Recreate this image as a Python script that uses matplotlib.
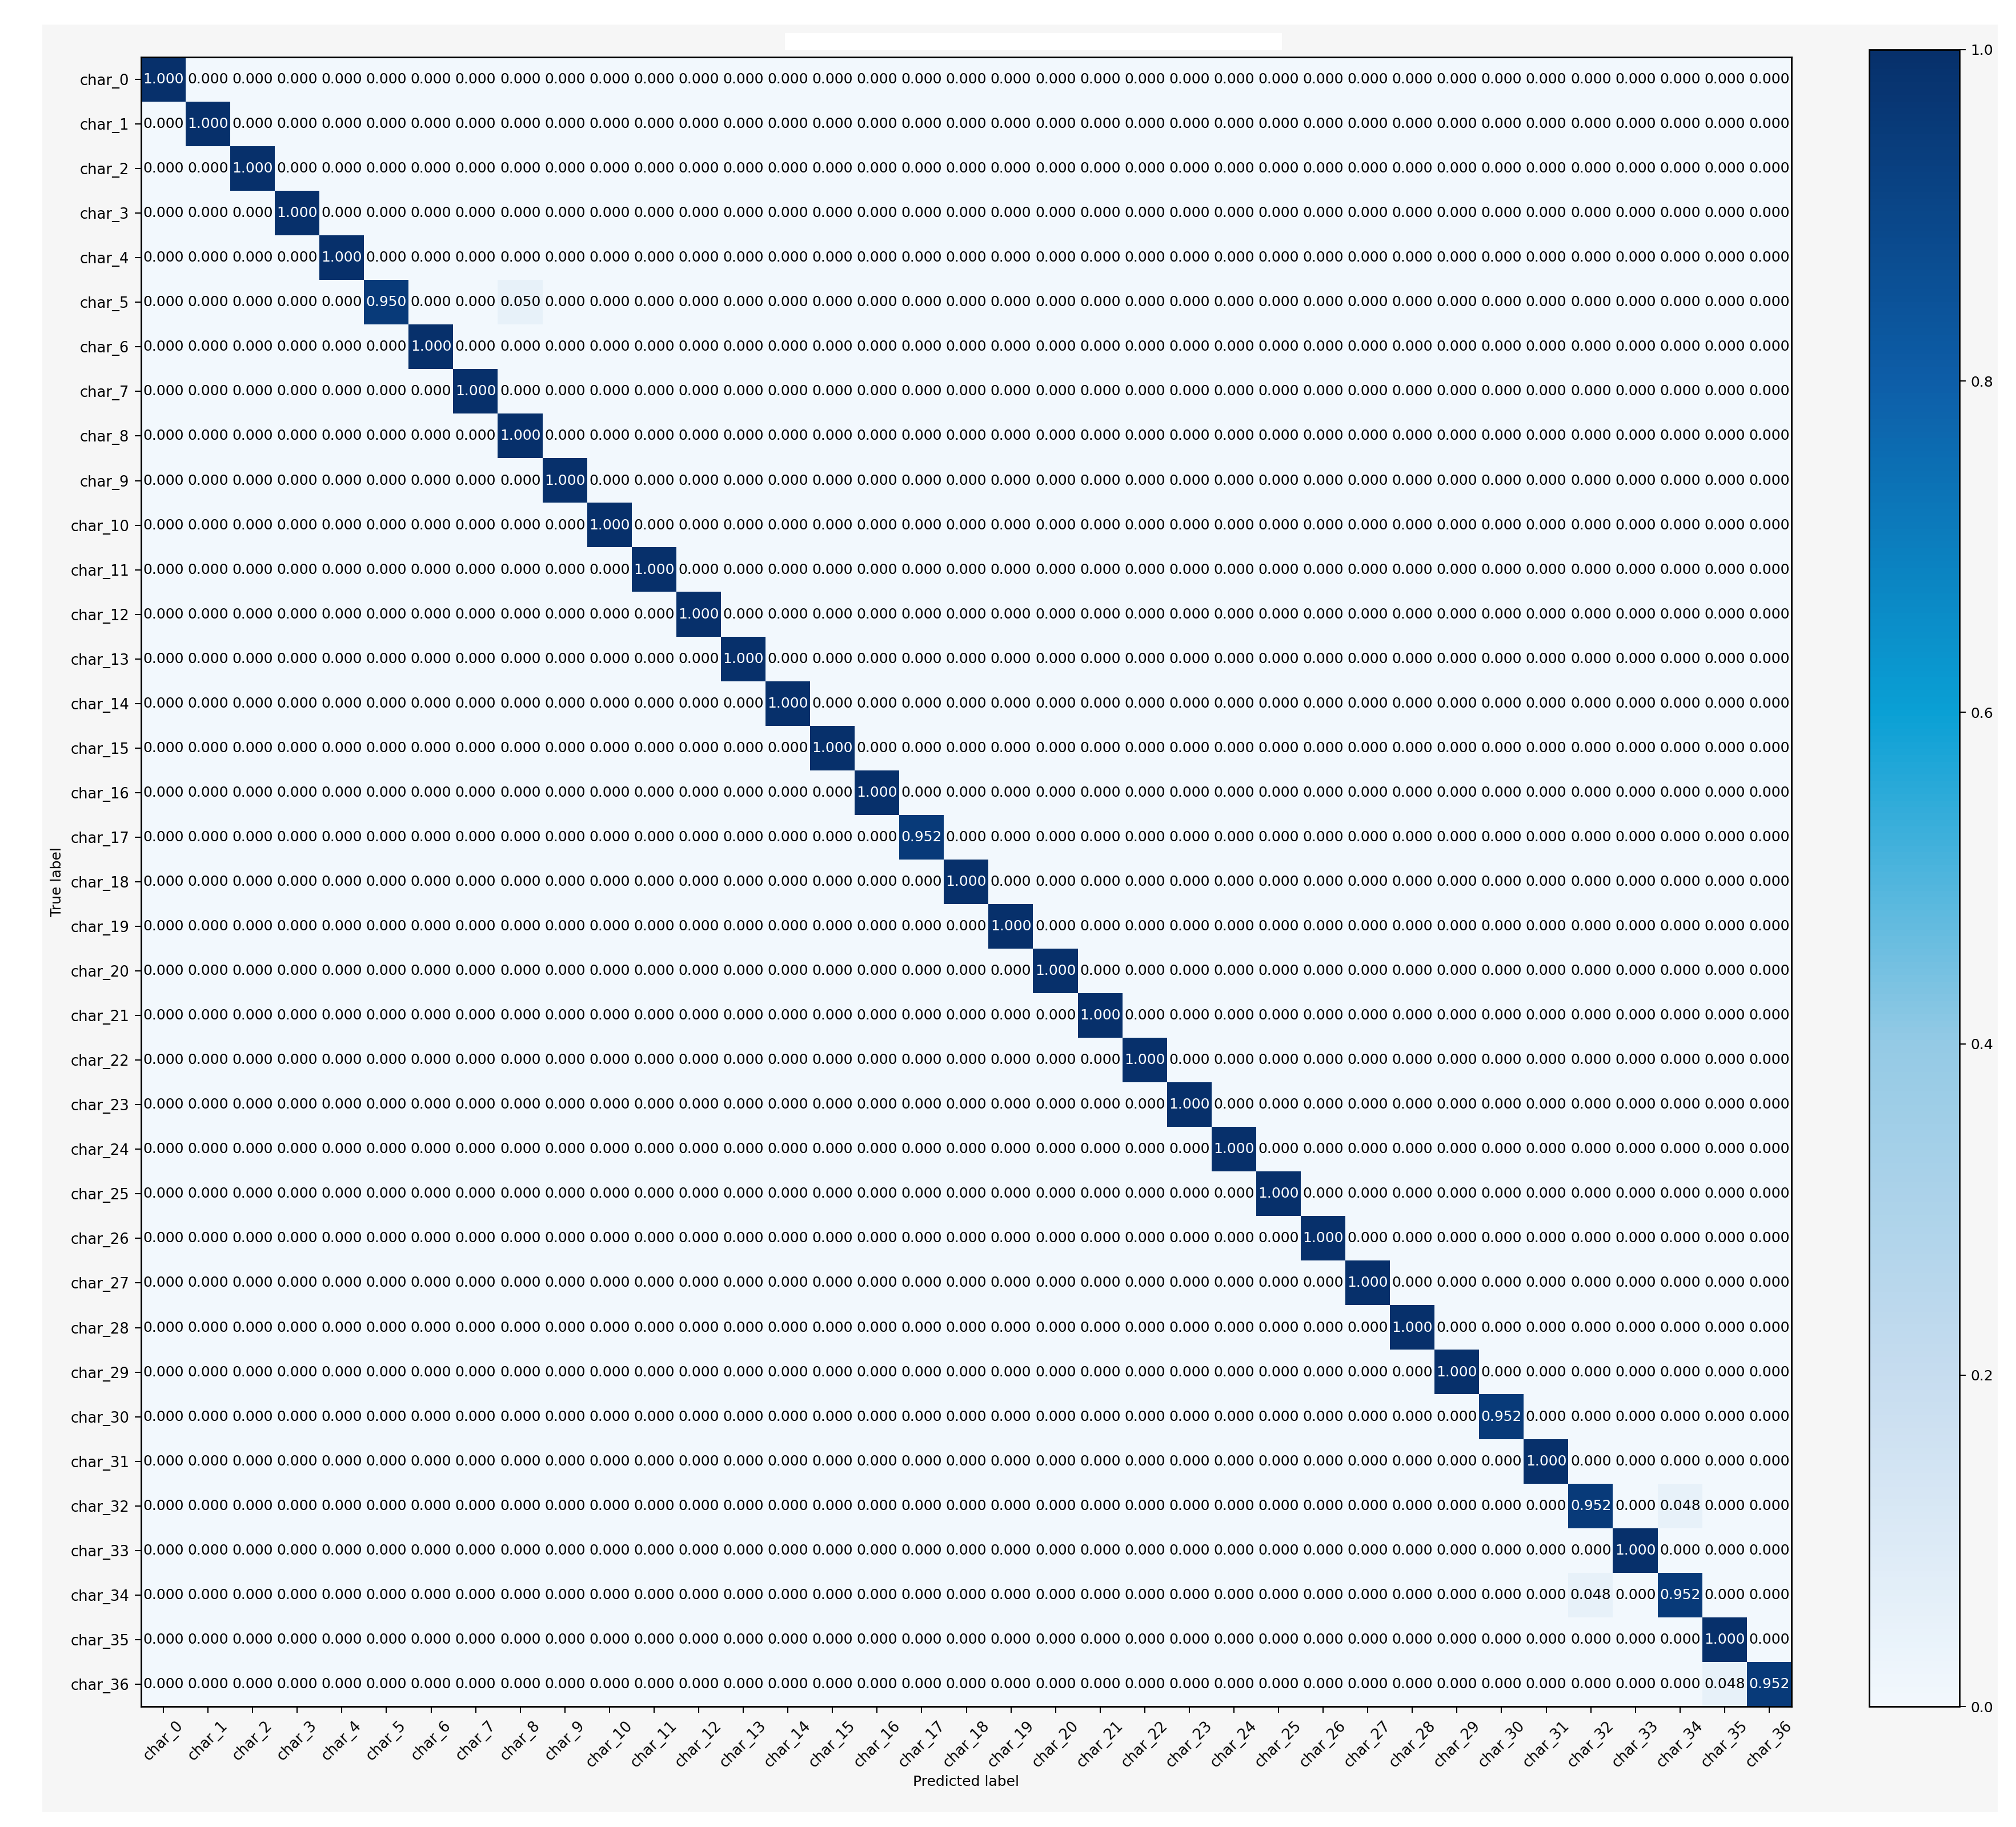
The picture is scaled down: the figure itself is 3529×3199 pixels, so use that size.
import matplotlib
matplotlib.use("Agg")
import matplotlib.pyplot as plt
from matplotlib.patches import Rectangle
from matplotlib.colors import LinearSegmentedColormap
import numpy as np

# class names
classes = ["char_%d" % i for i in range(37)]

# diagonal of the normalized confusion matrix (row = true label)
diag_values = [1.000, 1.000, 1.000, 1.000, 1.000, 0.950, 1.000, 1.000, 1.000, 1.000,
               1.000, 1.000, 1.000, 1.000, 1.000, 1.000, 1.000, 0.952, 1.000, 1.000,
               1.000, 1.000, 1.000, 1.000, 1.000, 1.000, 1.000, 1.000, 1.000, 1.000,
               0.952, 1.000, 0.952, 1.000, 0.952, 1.000, 0.952]

# off-diagonal misclassifications: (true row, predicted col, value)
off_rows = [5, 32, 34, 36]
off_cols = [8, 34, 32, 35]
off_values = [0.050, 0.048, 0.048, 0.048]

n = len(classes)
cm = np.zeros((n, n))
cm[np.arange(n), np.arange(n)] = diag_values
cm[off_rows, off_cols] = off_values

# Blues-like map, a bit more saturated like the scanned figure
cmap = LinearSegmentedColormap.from_list(
    "blues_sat",
    [(0.0, "#f2f8fd"), (0.2, "#c6dcef"), (0.4, "#94cae5"),
     (0.6, "#0aa0d5"), (0.8, "#0d5ea8"), (1.0, "#07306b")])

W, H = 3529, 3199
fig = plt.figure(figsize=(W / 100, H / 100), dpi=100)
fig.patch.set_facecolor("white")

# light gray panel behind the chart
fig.add_artist(Rectangle((74 / W, 1 - 3173 / H), (3497 - 74) / W, (3173 - 43) / H,
                         transform=fig.transFigure, facecolor="#f6f6f6",
                         edgecolor="none", zorder=-10))
# blanked title area
fig.add_artist(Rectangle((1374 / W, 1 - 88 / H), 870 / W, 30 / H,
                         transform=fig.transFigure, facecolor="white",
                         edgecolor="none", zorder=-5))

ax = fig.add_axes([247 / W, 1 - 2988 / H, 2889 / W, 2888 / H])
cax = fig.add_axes([3272 / W, 1 - 2988 / H, 158 / W, (2988 - 87) / H])

im = ax.imshow(cm, interpolation="nearest", cmap=cmap, vmin=0, vmax=1,
               aspect="auto")
cb = fig.colorbar(im, cax=cax)
cb.set_ticks([0.0, 0.2, 0.4, 0.6, 0.8, 1.0])
cb.ax.tick_params(labelsize=18, length=8, width=1.5, pad=6)
cb.outline.set_linewidth(2)

tick_marks = np.arange(n)
ax.set_xticks(tick_marks)
ax.set_xticklabels(classes, rotation=45, fontsize=18.5)
ax.set_yticks(tick_marks)
ax.set_yticklabels(classes, fontsize=18.5)
ax.tick_params(length=8, width=1.5, pad=7)
for s in ax.spines.values():
    s.set_linewidth(2)

thresh = cm.max() / 2.0
for i in range(n):
    for j in range(n):
        ax.text(j, i, format(cm[i, j], ".3f"), ha="center", va="center",
                fontsize=18, color="white" if cm[i, j] > thresh else "black")

ax.set_ylabel("True label", fontsize=18, labelpad=8)
ax.set_xlabel("Predicted label", fontsize=18, labelpad=6)

fig.savefig("out.png", dpi=100, facecolor=fig.get_facecolor())
